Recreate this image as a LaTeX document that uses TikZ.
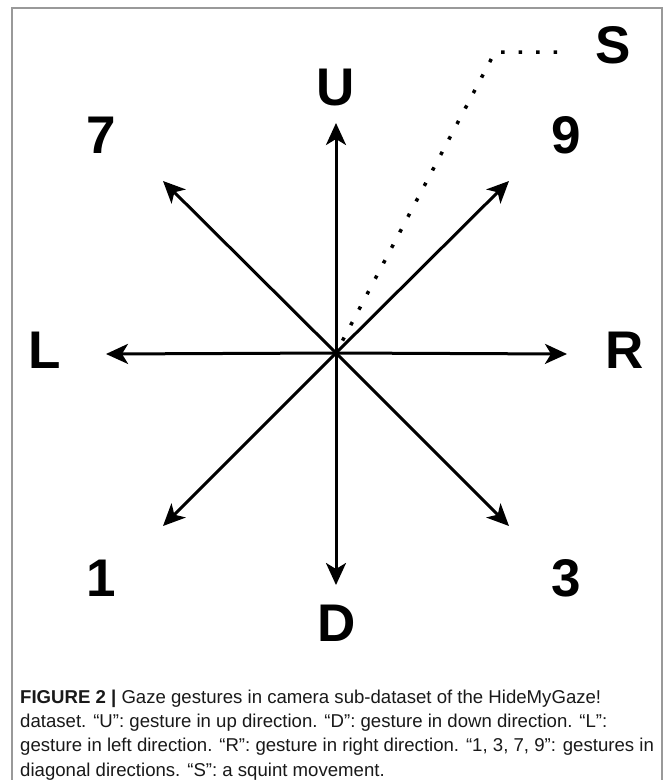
\documentclass[tikz,border=0pt]{standalone}
\usepackage{fontspec}
\setmainfont{Liberation Sans}
\usetikzlibrary{arrows.meta}
\begin{document}
\begin{tikzpicture}[x=1pt,y=-1pt,
  dirarrow/.style={line width=3pt,-{Stealth[length=22pt,width=20pt,inset=6pt]}},
  dirlabel/.style={inner sep=0pt,font=\fontsize{53}{53}\selectfont\bfseries},
  squint/.style={line width=3.5pt,dash pattern=on 3.5pt off 14pt,dash phase=3.5pt},
  capline/.style={inner sep=0pt,anchor=base west,text=black!90,font=\fontsize{18.6}{21}\selectfont},
  frame/.style={draw=black!40,line width=1.5pt}]
\useasboundingbox (0,0) rectangle (665,780);
\fill[white] (0,0) rectangle (665,780);
\draw[frame] (12,790) -- (12,8) -- (662,8) -- (662,790);
% centre and arrow tips
\coordinate (c) at (336,353);
\coordinate (tu) at (336,123);
\coordinate (td) at (336,585);
\coordinate (tl) at (106,354);
\coordinate (tr) at (567,354);
\coordinate (t7) at (163,181);
\coordinate (t9) at (509,181);
\coordinate (t1) at (163,526);
\coordinate (t3) at (509,526);
\coordinate (sc) at (495,52);
\coordinate (se) at (568,52);
% labels
\node[dirlabel] (U) at (336,88) {U};
\node[dirlabel] (D) at (337,623) {D};
\node[dirlabel] (L) at (45,350) {L};
\node[dirlabel] (R) at (625,350) {R};
\node[dirlabel] (n7) at (101,135) {7};
\node[dirlabel] (n9) at (566,135) {9};
\node[dirlabel] (n1) at (101,578) {1};
\node[dirlabel] (n3) at (566,578) {3};
\node[dirlabel] (S) at (613,45) {S};
% squint path
\draw[squint] (c) -- (sc) -- (se);
% arrows
\foreach \t in {tu,td,tl,tr,t7,t9,t1,t3} \draw[dirarrow] (c) -- (\t);
% caption
\node[capline] (cap1) at (20,703) {\textbf{FIGURE 2 |} Gaze gestures in camera sub-dataset of the HideMyGaze!};
\node[capline] (cap2) at (20,727.3) {dataset. “U”: gesture in up direction. “D”: gesture in down direction. “L”:};
\node[capline] (cap3) at (20,751.6) {gesture in left direction. “R”: gesture in right direction. “1, 3, 7, 9”: gestures in};
\node[capline] (cap4) at (20,776) {diagonal directions. “S”: a squint movement.};
\end{tikzpicture}
\end{document}
